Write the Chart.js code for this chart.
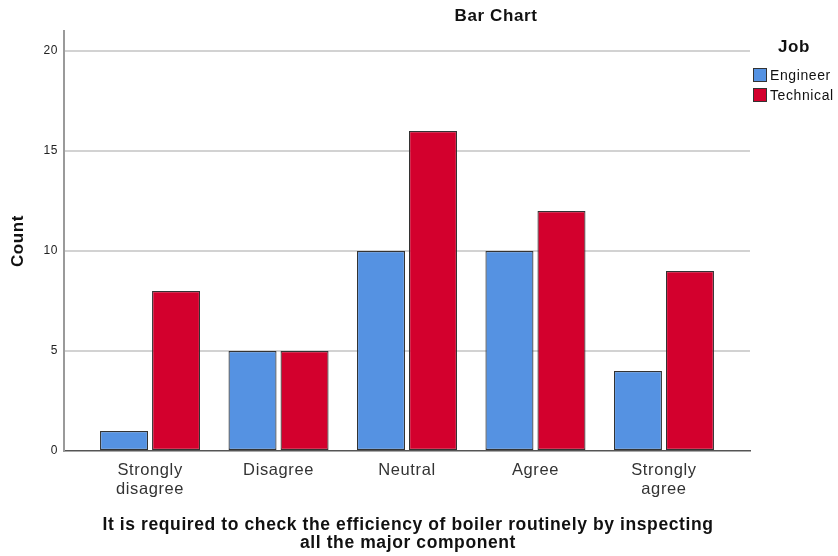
<!DOCTYPE html>
<html>
<head>
<meta charset="utf-8">
<script src="https://cdn.jsdelivr.net/npm/chart.js@4/dist/chart.umd.min.js"></script>
<style>
  html, body { margin: 0; padding: 0; background: #ffffff; }
  #wrap { width: 838px; height: 556px; position: relative; }
</style>
</head>
<body>
<div id="wrap"><canvas id="c" width="838" height="556"></canvas></div>
<script>
const categories = [["Strongly", "disagree"], "Disagree", "Neutral", "Agree", ["Strongly", "agree"]];
const engineer = [1, 5, 10, 10, 4];
const technical = [8, 5, 16, 12, 9];
const yTicks = [0, 5, 10, 15, 20];
const seriesNames = ["Engineer", "Technical"];
const legendTitle = "Job";
const chartTitle = "Bar Chart";
const yTitle = "Count";
const xTitle = ["It is required to check the efficiency of boiler routinely by inspecting", "all the major component"];

const FONT = "'Liberation Sans', Arial, sans-serif";
const BLUE = "#5592e2";
const RED = "#d3002d";
const SPACING = '0.6px';

const toPoints = arr => arr.map((v, i) => ({ x: i, y: v }));

const spacing = {
  id: 'spacing',
  beforeUpdate(chart) { chart.ctx.letterSpacing = SPACING; },
  beforeLayout(chart) { chart.ctx.letterSpacing = SPACING; },
  beforeDraw(chart) { chart.ctx.letterSpacing = SPACING; }
};

const overlay = {
  id: 'overlay',
  afterDraw(chart) {
    const ctx = chart.ctx;
    const a = chart.chartArea;
    ctx.save();
    ctx.letterSpacing = SPACING;
    ctx.fillStyle = '#111';
    ctx.textBaseline = 'middle';
    ctx.font = 'bold 17px ' + FONT;
    ctx.textAlign = 'center';
    ctx.fillText(chartTitle, 496, 16);
    const cx = (a.left + a.right) / 2;
    ctx.font = 'bold 17.5px ' + FONT;
    ctx.fillText(xTitle[0], cx + 1, 525);
    ctx.fillText(xTitle[1], cx + 1, 543);
    ctx.save();
    ctx.translate(18, (a.top + a.bottom) / 2);
    ctx.rotate(-Math.PI / 2);
    ctx.font = 'bold 17px ' + FONT;
    ctx.fillText(yTitle, 0, 0);
    ctx.restore();
    ctx.textAlign = 'left';
    ctx.font = 'bold 17px ' + FONT;
    ctx.fillText(legendTitle, 778, 47);
    const cols = [BLUE, RED];
    ctx.font = '14px ' + FONT;
    seriesNames.forEach((n, i) => {
      const y = 68 + i * 20;
      ctx.fillStyle = cols[i];
      ctx.fillRect(753, y, 14, 14);
      ctx.strokeStyle = '#333';
      ctx.lineWidth = 1;
      ctx.strokeRect(753.5, y + 0.5, 13, 13);
      ctx.fillStyle = '#111';
      ctx.fillText(n, 770, y + 8);
    });
    ctx.restore();
  }
};

new Chart(document.getElementById('c'), {
  type: 'bar',
  data: {
    datasets: [
      { label: seriesNames[0], data: toPoints(engineer), backgroundColor: BLUE, borderColor: '#333', borderWidth: 1.2, borderSkipped: false },
      { label: seriesNames[1], data: toPoints(technical), backgroundColor: RED, borderColor: '#333', borderWidth: 1.2, borderSkipped: false }
    ]
  },
  options: {
    responsive: false,
    animation: false,
    events: [],
    layout: { padding: { left: 0, top: 31, right: 88, bottom: 0 } },
    categoryPercentage: 0.81,
    barPercentage: 0.923,
    plugins: { legend: { display: false }, title: { display: false }, tooltip: { enabled: false } },
    scales: {
      x: {
        type: 'linear',
        offset: false,
        min: -0.67,
        max: 4.67,
        afterBuildTicks: s => { s.ticks = categories.map((c, i) => ({ value: i })); },
        afterFit: s => { s.height = 105; },
        grid: { display: false, drawTicks: false, offset: false },
        border: { display: true, color: '#555', width: 1.5 },
        ticks: {
          padding: 10,
          autoSkip: false,
          maxRotation: 0,
          color: '#333',
          font: { family: FONT, size: 16.5, lineHeight: 1.16 },
          callback: (v) => categories[v]
        }
      },
      y: {
        min: 0,
        max: 21,
        afterBuildTicks: s => { s.ticks = yTicks.map(v => ({ value: v })); },
        afterFit: s => { s.width = 64; },
        grid: { color: ctx => ctx.tick && ctx.tick.value === 0 ? 'rgba(0,0,0,0)' : '#d2d2d2', lineWidth: 2, drawTicks: false },
        border: { display: true, color: '#9a9a9a', width: 2 },
        ticks: { padding: 6, color: '#222', font: { family: FONT, size: 12 } }
      }
    }
  },
  plugins: [spacing, overlay]
});
</script>
</body>
</html>
